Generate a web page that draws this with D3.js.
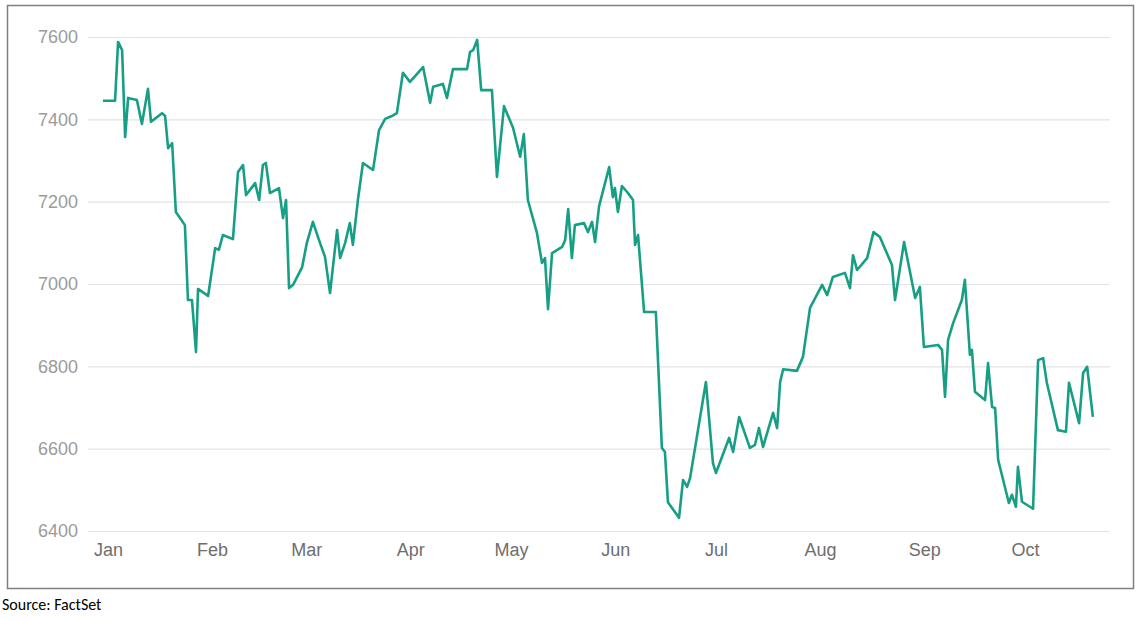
<!DOCTYPE html>
<html>
<head>
<meta charset="utf-8">
<script src="https://cdn.jsdelivr.net/npm/d3@7"></script>
<style>
  body { margin: 0; background: #fff; }
  svg { font-family: Roboto, "Noto Sans", sans-serif; }
</style>
</head>
<body>
<svg id="chart" width="1143" height="620"></svg>
<script>
// day of year (0 = Jan 1) and index level
const days = [-1.5,2.1,3.0,4.2,5.1,6.0,8.6,10.1,11.9,12.8,16.1,17.0,17.9,19.1,20.2,22.9,23.8,25.0,26.2,26.8,29.8,31.9,33.0,34.2,37.2,38.7,40.2,41.1,43.8,45.0,46.1,47.0,48.2,50.9,52.1,53.0,53.9,55.1,57.8,59.2,61.0,62.8,64.6,66.1,68.2,69.1,70.6,72.0,72.9,74.4,75.9,78.9,80.7,82.5,84.5,86.0,87.8,89.9,93.8,95.9,96.8,99.7,100.9,102.7,106.9,107.8,108.7,109.9,111.1,114.3,115.8,117.9,120.6,122.7,123.8,125.0,127.7,129.2,130.1,131.0,132.2,135.2,136.1,137.0,138.1,139.0,141.7,142.9,144.1,145.0,146.2,149.2,150.3,150.9,151.8,153.0,154.8,156.3,156.9,157.8,159.6,163.1,164.9,165.8,166.7,170.0,171.2,172.4,173.3,178.0,180.1,181.0,184.9,186.1,187.9,191.1,192.6,193.8,195.0,198.0,199.2,200.1,201.0,205.1,206.9,209.0,212.6,214.1,215.8,219.4,220.9,221.8,223.0,226.0,227.9,229.8,233.4,234.3,237.0,240.3,241.7,242.9,247.1,248.3,249.2,250.1,251.6,254.2,255.1,256.6,257.2,258.1,261.1,262.0,263.2,264.1,265.0,268.2,269.1,270.3,270.9,272.1,275.4,276.9,278.4,279.5,282.8,285.2,286.1,289.1,290.3,291.5,293.2];
const values = [7445,7445,7588,7568,7357,7452,7447,7389,7474,7394,7415,7408,7330,7342,7175,7143,6961,6961,6835,6988,6971,7087,7083,7119,7109,7272,7289,7216,7245,7204,7289,7294,7221,7233,7160,7204,6990,6998,7041,7100,7151,7107,7066,6978,7131,7063,7100,7148,7095,7204,7294,7277,7374,7401,7408,7415,7513,7491,7527,7440,7479,7486,7452,7522,7522,7564,7568,7593,7471,7471,7260,7432,7379,7309,7364,7204,7124,7051,7063,6939,7075,7090,7107,7182,7063,7143,7148,7126,7151,7102,7189,7284,7211,7233,7175,7238,7221,7204,7095,7119,6932,6932,6602,6592,6470,6432,6524,6507,6529,6762,6565,6541,6626,6592,6677,6602,6609,6650,6604,6687,6650,6762,6793,6789,6823,6942,6998,6973,7017,7027,6990,7070,7034,7063,7126,7114,7046,6961,7102,6966,6993,6847,6852,6840,6726,6864,6905,6961,7010,6828,6840,6738,6718,6808,6701,6699,6573,6468,6488,6459,6556,6471,6454,6815,6820,6760,6645,6641,6760,6662,6784,6799,6677];
const monthStarts = [0,31,59,90,120,151,181,212,243,273];
const monthLabels = ["Jan","Feb","Mar","Apr","May","Jun","Jul","Aug","Sep","Oct"];
const yTicks = [6400,6600,6800,7000,7200,7400,7600];

const svg = d3.select("#chart");

// outer frame
svg.append("rect").attr("x",7.5).attr("y",5.5).attr("width",1126).attr("height",583)
  .attr("fill","none").attr("stroke","#7f7f7f").attr("stroke-width",1.5);

const x = d3.scaleLinear().domain([0,273]).range([108,1025]);
const y = d3.scaleLinear().domain([6400,7600]).range([531,37]);

// y axis with full-width gridlines
const yAxis = svg.append("g").attr("transform","translate(1110,0)")
  .call(d3.axisLeft(y).tickValues(yTicks).tickSize(1022).tickFormat(d3.format("d")));
yAxis.select(".domain").remove();
yAxis.selectAll("line").attr("stroke","#e3e3e3").attr("stroke-width",1.2);
yAxis.selectAll("text").attr("x",-1032).attr("fill","#9b9b9b").style("font-size","18px");

// month axis
const xAxis = svg.append("g").attr("transform","translate(0,540)")
  .call(d3.axisBottom(x).tickValues(monthStarts).tickSize(0).tickFormat((d,i) => monthLabels[i]));
xAxis.select(".domain").remove();
xAxis.selectAll("text").attr("fill","#6e6e6e").style("font-size","18px");

const line = d3.line().x((d,i) => x(days[i])).y(d => y(d));
svg.append("path").datum(values).attr("d",line)
  .attr("fill","none").attr("stroke","#179f85").attr("stroke-width",2.6)
  .attr("stroke-linejoin","round");

svg.append("text").attr("x",2).attr("y",610)
  .style("font-family","Carlito, 'Liberation Sans', sans-serif").style("font-size","16px")
  .attr("fill","#000").text("Source: FactSet");
</script>
</body>
</html>
